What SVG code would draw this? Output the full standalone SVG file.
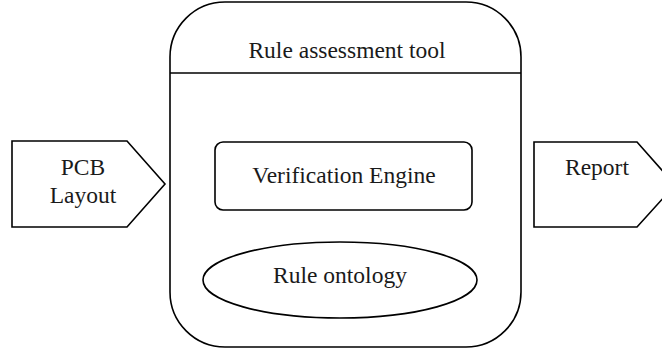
<svg xmlns="http://www.w3.org/2000/svg" width="662" height="350" viewBox="0 0 662 350">
<style>
.s{fill:#fff;stroke:#000;stroke-width:1.6}
.t{font-family:"Liberation Serif",serif;font-size:23.5px;fill:#1a1a1a;text-anchor:middle}
</style>
<rect width="662" height="350" fill="#fff"/>
<g id="tool">
<rect class="s" x="170" y="2" width="351" height="345" rx="55" ry="55"/>
<line x1="170" y1="73" x2="521" y2="73" stroke="#000" stroke-width="1.6"/>
<text class="t" x="347" y="58">Rule assessment tool</text>
</g>
<g id="engine">
<rect class="s" x="215" y="142" width="257" height="68" rx="8" ry="8"/>
<text class="t" x="344" y="183">Verification Engine</text>
</g>
<g id="ontology">
<ellipse class="s" cx="340" cy="280" rx="137" ry="38"/>
<text class="t" x="340" y="283">Rule ontology</text>
</g>
<g id="pcb">
<polygon class="s" points="12,141 127,141 165,184 127,227 12,227"/>
<text class="t" x="83" y="175">PCB</text>
<text class="t" x="83" y="203">Layout</text>
</g>
<g id="report">
<polygon class="s" points="534,142 637,142 675,185 637,227 534,227"/>
<text class="t" x="597" y="175">Report</text>
</g>
<g id="connectors"></g>
</svg>
